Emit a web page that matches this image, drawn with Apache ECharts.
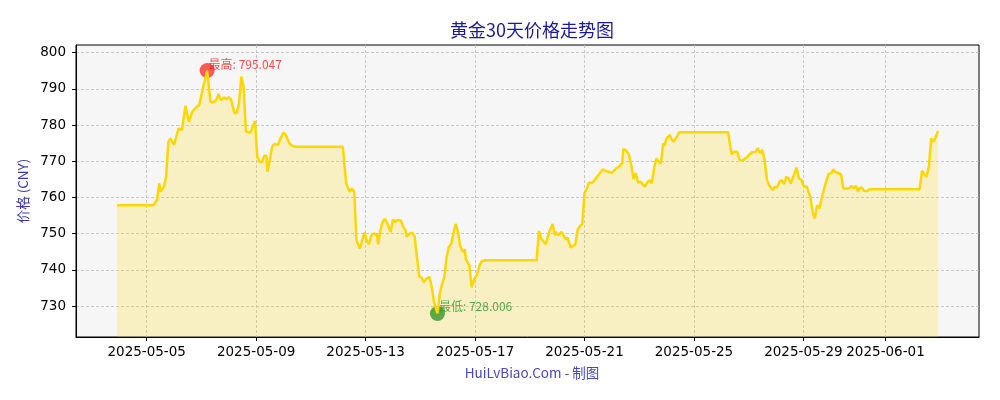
<!DOCTYPE html>
<html><head><meta charset="utf-8">
<script src="https://cdn.jsdelivr.net/npm/echarts@6/dist/echarts.min.js"></script>
<style>html,body{margin:0;padding:0;background:#fff}#c{width:1000px;height:400px}</style>
</head><body><div id="c"></div>
<script>
const titleText = '黄金30天价格走势图';
const yAxisName = '价格 (CNY)';
const footerText = 'HuiLvBiao.Com - 制图';

const times = [
'2025-05-03 22:00','2025-05-05 06:00','2025-05-05 09:00','2025-05-05 11:00','2025-05-05 12:00','2025-05-05 15:00','2025-05-05 17:00','2025-05-05 19:00','2025-05-05 21:00',
'2025-05-06 00:00','2025-05-06 04:00','2025-05-06 07:00','2025-05-06 10:00','2025-05-06 13:00','2025-05-06 16:00','2025-05-06 20:00','2025-05-06 22:00',
'2025-05-07 01:00','2025-05-07 05:00','2025-05-07 08:00','2025-05-07 10:00','2025-05-07 13:00','2025-05-07 15:00','2025-05-07 17:00','2025-05-07 20:00','2025-05-07 22:00',
'2025-05-08 00:00','2025-05-08 02:00','2025-05-08 05:00','2025-05-08 07:00','2025-05-08 09:00','2025-05-08 11:00','2025-05-08 13:00','2025-05-08 15:00','2025-05-08 19:00','2025-05-08 21:00','2025-05-08 23:00',
'2025-05-09 01:00','2025-05-09 03:00','2025-05-09 05:00','2025-05-09 07:00','2025-05-09 09:00','2025-05-09 10:00','2025-05-09 14:00','2025-05-09 16:00','2025-05-09 19:00','2025-05-09 21:00','2025-05-09 22:00',
'2025-05-10 00:00','2025-05-10 02:00','2025-05-10 05:00','2025-05-10 08:00','2025-05-10 11:00',
'2025-05-12 04:00','2025-05-12 07:00','2025-05-12 08:00','2025-05-12 10:00','2025-05-12 12:00','2025-05-12 14:00','2025-05-12 16:00','2025-05-12 19:00','2025-05-12 21:00','2025-05-12 23:00',
'2025-05-13 01:00','2025-05-13 03:00','2025-05-13 05:00','2025-05-13 07:00','2025-05-13 10:00','2025-05-13 11:00','2025-05-13 13:00','2025-05-13 15:00','2025-05-13 17:00','2025-05-13 19:00','2025-05-13 22:00',
'2025-05-14 00:00','2025-05-14 02:00','2025-05-14 04:00','2025-05-14 07:00','2025-05-14 09:00','2025-05-14 11:00','2025-05-14 12:00','2025-05-14 15:00','2025-05-14 17:00','2025-05-14 19:00','2025-05-14 21:00','2025-05-14 23:00',
'2025-05-15 01:00','2025-05-15 03:00','2025-05-15 05:00','2025-05-15 08:00','2025-05-15 10:00','2025-05-15 12:00','2025-05-15 15:00','2025-05-15 17:00','2025-05-15 19:00','2025-05-15 21:00','2025-05-15 23:00',
'2025-05-16 01:00','2025-05-16 03:00','2025-05-16 05:00','2025-05-16 07:00','2025-05-16 09:00','2025-05-16 11:00','2025-05-16 13:00','2025-05-16 15:00','2025-05-16 16:00','2025-05-16 19:00','2025-05-16 21:00','2025-05-16 23:00',
'2025-05-17 02:00','2025-05-17 04:00','2025-05-17 06:00','2025-05-17 09:00',
'2025-05-19 06:00','2025-05-19 08:00','2025-05-19 10:00','2025-05-19 14:00','2025-05-19 17:00','2025-05-19 20:00','2025-05-19 22:00','2025-05-19 23:00',
'2025-05-20 01:00','2025-05-20 04:00','2025-05-20 06:00','2025-05-20 08:00','2025-05-20 09:00','2025-05-20 12:00','2025-05-20 14:00','2025-05-20 16:00','2025-05-20 18:00','2025-05-20 20:00','2025-05-20 22:00',
'2025-05-21 00:00','2025-05-21 02:00','2025-05-21 04:00','2025-05-21 07:00','2025-05-21 10:00','2025-05-21 13:00','2025-05-21 16:00','2025-05-21 18:00','2025-05-21 21:00',
'2025-05-22 00:00','2025-05-22 03:00','2025-05-22 06:00','2025-05-22 09:00','2025-05-22 10:00','2025-05-22 13:00','2025-05-22 15:00','2025-05-22 17:00','2025-05-22 19:00','2025-05-22 21:00','2025-05-22 23:00',
'2025-05-23 01:00','2025-05-23 03:00','2025-05-23 05:00','2025-05-23 07:00','2025-05-23 09:00','2025-05-23 11:00','2025-05-23 13:00','2025-05-23 15:00','2025-05-23 17:00','2025-05-23 19:00','2025-05-23 21:00','2025-05-23 22:00',
'2025-05-24 00:00','2025-05-24 03:00','2025-05-24 04:00','2025-05-24 06:00','2025-05-24 09:00','2025-05-24 11:00',
'2025-05-26 06:00','2025-05-26 07:00','2025-05-26 09:00','2025-05-26 11:00','2025-05-26 14:00','2025-05-26 16:00','2025-05-26 18:00','2025-05-26 20:00','2025-05-26 23:00',
'2025-05-27 01:00','2025-05-27 03:00','2025-05-27 06:00','2025-05-27 08:00','2025-05-27 10:00','2025-05-27 12:00','2025-05-27 14:00','2025-05-27 16:00','2025-05-27 18:00','2025-05-27 21:00','2025-05-27 23:00',
'2025-05-28 01:00','2025-05-28 03:00','2025-05-28 05:00','2025-05-28 07:00','2025-05-28 09:00','2025-05-28 11:00','2025-05-28 13:00','2025-05-28 15:00','2025-05-28 18:00','2025-05-28 20:00','2025-05-28 22:00',
'2025-05-29 00:00','2025-05-29 03:00','2025-05-29 04:00','2025-05-29 06:00','2025-05-29 08:00','2025-05-29 10:00','2025-05-29 12:00','2025-05-29 14:00','2025-05-29 16:00','2025-05-29 19:00','2025-05-29 22:00',
'2025-05-30 01:00','2025-05-30 02:00','2025-05-30 04:00','2025-05-30 07:00','2025-05-30 09:00','2025-05-30 11:00','2025-05-30 16:00','2025-05-30 18:00','2025-05-30 20:00','2025-05-30 22:00',
'2025-05-31 00:00','2025-05-31 01:00','2025-05-31 03:00','2025-05-31 05:00','2025-05-31 08:00','2025-05-31 10:00',
'2025-06-02 06:00','2025-06-02 08:00','2025-06-02 10:00','2025-06-02 12:00','2025-06-02 14:00','2025-06-02 16:00','2025-06-02 18:00','2025-06-02 20:00','2025-06-02 22:00'
];
const prices = [
757.9,757.9,759.3,763.9,761.6,763.0,765.7,775.4,776.3,
774.5,779.1,778.6,785.3,780.9,783.7,785.1,785.5,
789.7,795.047,786.5,786.2,786.9,788.6,786.9,787.6,787.1,
787.7,787.1,783.3,783.3,786.0,793.4,790.6,778.2,777.9,779.6,781.1,
771.3,769.9,769.7,771.5,771.5,767.1,774.0,774.8,774.5,776.1,775.9,
777.9,777.3,775.0,774.2,774.0,
774.0,763.9,764.1,761.6,762.5,761.6,748.2,745.9,748.2,750.3,
748.2,747.1,749.6,750.1,749.6,747.1,751.0,753.3,754.1,752.9,750.5,
753.9,753.3,753.8,753.6,751.9,751.0,749.2,750.1,750.3,749.2,743.6,738.3,
737.9,736.6,737.5,738.1,735.3,731.2,728.006,733.5,736.1,738.1,743.5,
746.4,747.1,750.1,752.7,750.5,746.6,745.0,745.7,742.9,741.3,735.2,737.2,
739.0,741.3,742.5,742.7,
742.7,750.8,748.7,747.1,750.5,752.7,749.6,750.5,
749.6,750.5,749.2,748.4,749.0,746.2,746.6,747.1,751.2,752.1,752.7,
761.3,762.5,764.1,764.1,765.3,766.5,767.8,767.4,767.1,
766.8,767.8,768.5,769.4,773.4,772.9,771.7,769.0,765.1,766.7,764.1,
764.4,763.7,763.0,764.1,764.8,763.9,768.0,770.8,769.9,769.4,775.0,774.2,
776.3,777.3,776.3,775.4,776.8,778.0,
778.0,775.9,771.9,772.6,772.6,770.4,770.2,770.5,771.3,
772.0,772.5,772.6,773.6,772.2,773.2,770.2,764.9,763.4,762.1,763.0,
762.8,764.4,764.8,763.7,765.7,765.3,763.9,765.7,768.3,765.2,765.0,
763.2,763.0,763.2,760.2,756.1,754.2,757.9,757.0,759.8,763.4,766.5,
766.8,767.8,767.1,766.7,766.4,762.5,762.5,763.2,762.5,763.2,
761.6,762.5,762.8,761.9,761.8,762.3,
762.3,767.4,766.5,765.7,768.5,776.3,775.4,776.6,778.4
];
const xTickDates = ['2025-05-05','2025-05-09','2025-05-13','2025-05-17','2025-05-21','2025-05-25','2025-05-29','2025-06-01'];
const yTickValues = [730,740,750,760,770,780,790,800];
const xExtent = ['2025-05-02 10:00','2025-06-04 10:00'];
const yExtent = [721.5,802.1];

const ts = s => new Date(s.length===10 ? s+'T00:00' : s.replace(' ','T')).getTime();
const pad = n => String(n).padStart(2,'0');
const fmtDate = v => { const d=new Date(v); return d.getFullYear()+'-'+pad(d.getMonth()+1)+'-'+pad(d.getDate()); };

const seriesData = times.map((t,i)=>[ts(t), prices[i]]);
let iMax=0,iMin=0;
prices.forEach((p,i)=>{ if(p>prices[iMax]) iMax=i; if(p<prices[iMin]) iMin=i; });
const xTickTs = xTickDates.map(ts);

const chart = echarts.init(document.getElementById('c'), null, {renderer:'canvas'});
const gridLine = {show:true, lineStyle:{color:'#bcbcbc', width:0.8, type:[3,2]}};
chart.setOption({
  animation:false,
  backgroundColor:'#ffffff',
  title:[
    {text:titleText, left:527, top:16, textAlign:'center',
     textStyle:{color:'#1a1a96', fontSize:18, fontWeight:'normal', fontFamily:'Noto Sans CJK SC'}},
    {text:footerText, left:527, top:361, textAlign:'center',
     textStyle:{color:'#4545c5', fontSize:13.5, fontWeight:'normal', fontFamily:'Noto Sans CJK SC'}}
  ],
  grid:{left:76, right:21, top:45, bottom:63, show:true, backgroundColor:'#f6f6f6', borderColor:'#000', borderWidth:1},
  xAxis:{
    type:'value', min:ts(xExtent[0]), max:ts(xExtent[1]),
    axisLine:{show:true, lineStyle:{color:'#000', width:1}},
    axisTick:{show:true, inside:false, length:4, lineStyle:{color:'#000'}, customValues:xTickTs},
    axisLabel:{show:true, customValues:xTickTs, interval:0, formatter:v=>fmtDate(v), color:'#000', fontSize:13.5, fontFamily:'DejaVu Sans', margin:8, hideOverlap:false},
    splitLine:gridLine
  },
  yAxis:{
    type:'value', min:yExtent[0], max:yExtent[1],
    name:yAxisName, nameLocation:'middle', nameGap:44, nameRotate:90,
    nameTextStyle:{color:'#3a3aae', fontSize:13.5, fontFamily:'Noto Sans CJK SC'},
    axisLine:{show:true, lineStyle:{color:'#000', width:1}},
    axisTick:{show:true, inside:false, length:4, lineStyle:{color:'#000'}, customValues:yTickValues},
    axisLabel:{show:true, customValues:yTickValues, color:'#000', fontSize:13.5, fontFamily:'DejaVu Sans', margin:10},
    splitLine:gridLine
  },
  series:[
    {type:'line', data:seriesData, showSymbol:false, symbol:'none', z:1,
     lineStyle:{width:0, opacity:0}, areaStyle:{color:'rgba(255,215,0,0.3)', origin:'start'}},
    {type:'scatter', z:2, symbolSize:15,
     data:[
       {value:seriesData[iMax], itemStyle:{color:'rgba(255,0,0,0.8)'},
        label:{show:true, formatter:'最高: '+prices[iMax].toFixed(3), position:[9,-5], align:'left', verticalAlign:'top', color:'#ff2020', fontSize:12, fontFamily:'Noto Sans CJK SC'}},
       {value:seriesData[iMin], itemStyle:{color:'rgba(0,128,0,0.8)'},
        label:{show:true, formatter:'最低: '+prices[iMin].toFixed(3), position:[9,-5], align:'left', verticalAlign:'top', color:'#2a9a2a', fontSize:12, fontFamily:'Noto Sans CJK SC'}}
     ]},
    {type:'line', data:seriesData, showSymbol:false, symbol:'none', z:3,
     lineStyle:{color:'#FFD700', width:2.5}}
  ]
});
</script></body></html>
